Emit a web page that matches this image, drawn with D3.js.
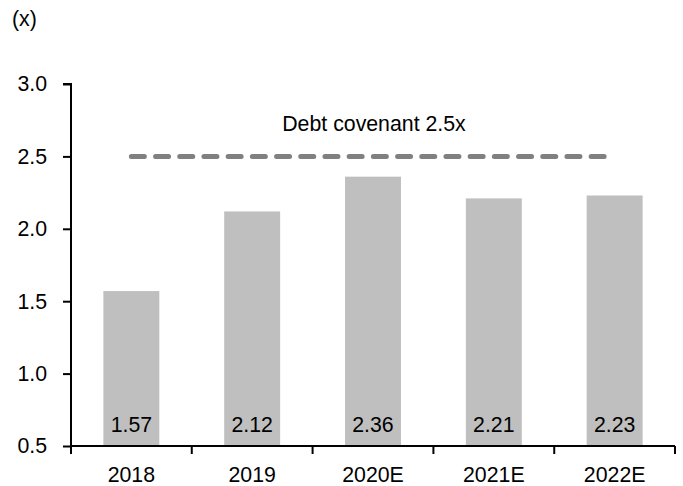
<!DOCTYPE html>
<html>
<head>
<meta charset="utf-8">
<script src="https://cdn.jsdelivr.net/npm/d3@7/dist/d3.min.js"></script>
<style>
  body { margin: 0; background: #fff; }
  svg text { font-family: Arial, "Liberation Sans", sans-serif; font-size: 21.3px; fill: #000; }
</style>
</head>
<body>
<svg id="chart" width="683" height="486"></svg>
<script>
// data
const years = ["2018", "2019", "2020E", "2021E", "2022E"];
const leverage = [1.57, 2.12, 2.36, 2.21, 2.23];
const covenant = 2.5;
const covenantLabel = "Debt covenant 2.5x";
const yTicks = [0.5, 1.0, 1.5, 2.0, 2.5, 3.0];

const svg = d3.select("#chart");

const x = d3.scaleBand().domain(years).range([71, 675]).paddingInner(0.537).paddingOuter(0.268);
const y = d3.scaleLinear().domain([0.5, 3.0]).range([446, 84]);

// bars
svg.selectAll(".bar").data(years).enter().append("rect")
    .attr("x", d => x(d))
    .attr("width", x.bandwidth())
    .attr("y", (d, i) => y(leverage[i]))
    .attr("height", (d, i) => y(0.5) - y(leverage[i]))
    .attr("fill", "#bfbfbf");

// value labels at bar base
svg.selectAll(".val").data(years).enter().append("text")
    .attr("x", d => x(d) + x.bandwidth() / 2)
    .attr("y", y(0.5) - 14)
    .attr("text-anchor", "middle")
    .text((d, i) => leverage[i].toFixed(2));

// covenant line
const mid = d => x(d) + x.bandwidth() / 2;
svg.append("line")
    .attr("x1", mid(years[0])).attr("x2", mid(years[years.length - 1]))
    .attr("y1", y(covenant)).attr("y2", y(covenant))
    .attr("stroke", "#808080")
    .attr("stroke-width", 5)
    .attr("stroke-linecap", "round")
    .attr("stroke-dasharray", "13 11.2");

svg.append("text")
    .attr("x", mid(years[2]) + 1)
    .attr("y", 131)
    .attr("text-anchor", "middle")
    .text(covenantLabel);

// y axis
const yAxis = svg.append("g").attr("transform", "translate(71,0)")
    .call(d3.axisLeft(y).tickValues(yTicks).tickFormat(d3.format(".1f")).tickSize(8).tickPadding(16));
yAxis.select(".domain").attr("d", `M-8,${y(3.0)}H0V${y(0.5)}`);

// x axis: ticks at band boundaries
const g = svg.append("g");
g.append("line").attr("x1", 71).attr("x2", 675).attr("y1", y(0.5)).attr("y2", y(0.5));
const bounds = years.map(d => x(d) - x.step() * x.paddingInner() / 2).concat([675]);
bounds[0] = 71;
g.selectAll(".xt").data(bounds).enter().append("line")
    .attr("x1", d => d).attr("x2", d => d)
    .attr("y1", y(0.5)).attr("y2", y(0.5) + 8);
g.selectAll("line").attr("stroke", "#000").attr("stroke-width", 2);

svg.selectAll(".xl").data(years).enter().append("text")
    .attr("x", d => mid(d))
    .attr("y", 482)
    .attr("text-anchor", "middle")
    .text(d => d);

yAxis.selectAll("line, path").attr("stroke", "#000").attr("stroke-width", 2);
yAxis.selectAll("text").attr("font-size", null).attr("font-family", null).attr("fill", "#000");

// unit label
svg.append("text").attr("x", 12).attr("y", 26).text("(x)");
</script>
</body>
</html>
